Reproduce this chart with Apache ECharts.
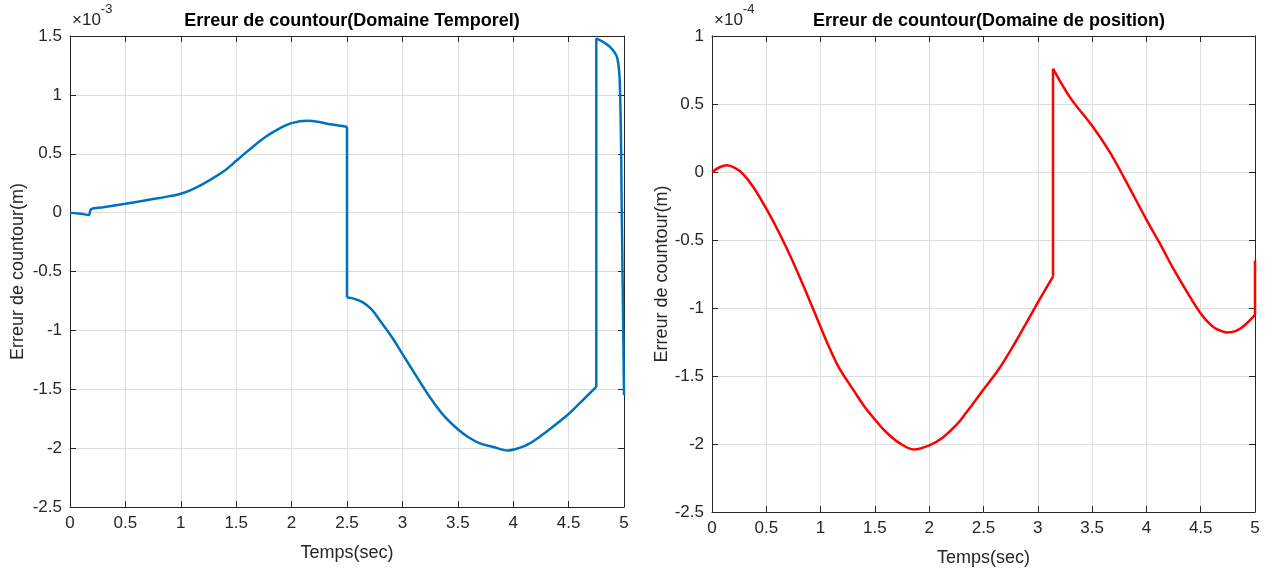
<!DOCTYPE html>
<html>
<head>
<meta charset="utf-8">
<script src="https://cdn.jsdelivr.net/npm/echarts@6/dist/echarts.min.js"></script>
<style>
  html, body { margin: 0; padding: 0; background: #fff; }
  #chart { width: 1271px; height: 572px; }
</style>
</head>
<body>
<div id="chart"></div>
<script>
// temps (s) et erreur, domaine temporel (unité 1e-3 m)
var tempsTemporel = [0, 0.1, 0.17, 0.19, 0.3, 0.5, 0.75, 0.9, 1.0, 1.1, 1.25, 1.4, 1.5, 1.6, 1.76, 1.9, 2.0, 2.14, 2.25, 2.35, 2.5,
  2.5, 2.56, 2.64, 2.72, 2.8, 2.9, 3.0, 3.12, 3.25, 3.37, 3.5, 3.6, 3.7, 3.82, 3.95, 4.05, 4.15, 4.3, 4.5, 4.62, 4.75,
  4.75, 4.87, 4.94, 4.965, 4.98, 5.0];
var erreurTemporel = [0, -0.01, -0.02, 0.03, 0.045, 0.075, 0.115, 0.14, 0.16, 0.195, 0.27, 0.36, 0.44, 0.52, 0.64, 0.72, 0.76, 0.78, 0.77, 0.75, 0.73,
  -0.72, -0.73, -0.76, -0.82, -0.92, -1.05, -1.2, -1.38, -1.57, -1.72, -1.84, -1.91, -1.96, -1.99, -2.02, -2.0, -1.96, -1.86, -1.71, -1.6, -1.48,
  1.48, 1.41, 1.31, 1.0, 0.0, -1.55];

// domaine de position (unité 1e-4 m)
var tempsPosition = [0, 0.07, 0.14, 0.21, 0.28, 0.38, 0.5, 0.62, 0.74, 0.87, 1.0, 1.08, 1.17, 1.3, 1.4, 1.5, 1.6, 1.72, 1.86,
  2.0, 2.12, 2.25, 2.34, 2.5, 2.64, 2.75, 2.88, 3.0, 3.14,
  3.14, 3.3, 3.5, 3.66, 3.8, 4.0, 4.12, 4.24, 4.38, 4.5, 4.6, 4.66, 4.74, 4.82, 4.9, 5.0, 5.0];
var erreurPosition = [0, 0.035, 0.05, 0.03, -0.01, -0.11, -0.27, -0.45, -0.65, -0.89, -1.14, -1.29, -1.44, -1.6, -1.72, -1.82, -1.91, -1.99, -2.04,
  -2.01, -1.955, -1.86, -1.77, -1.6, -1.45, -1.31, -1.13, -0.96, -0.77,
  0.76, 0.545, 0.34, 0.15, -0.05, -0.35, -0.52, -0.70, -0.89, -1.04, -1.13, -1.16, -1.18, -1.17, -1.13, -1.05, -0.65];

var xTicks = { min: 0, max: 5, interval: 0.5 };
var yTicksTemporel = { min: -2.5, max: 1.5, interval: 0.5 };
var yTicksPosition = { min: -2.5, max: 1, interval: 0.5 };

var police = 'Liberation Sans, Arial, sans-serif';
var couleurAxe = '#262626';

// coupe la courbe aux sauts verticaux : morceaux lissés + sauts droits
function courbe(xs, ys, axe, couleur) {
  var morceaux = [[]], sauts = [];
  for (var i = 0; i < xs.length; i++) {
    if (i > 0 && xs[i] === xs[i - 1]) {
      sauts.push([[xs[i - 1], ys[i - 1]], [xs[i], ys[i]]]);
      morceaux.push([]);
    }
    morceaux[morceaux.length - 1].push([xs[i], ys[i]]);
  }
  var style = { color: couleur, width: 2.5 };
  var out = [];
  morceaux.forEach(function (m) {
    if (m.length < 2) return;
    out.push({ type: 'line', xAxisIndex: axe, yAxisIndex: axe, data: m, smooth: 0.35,
      showSymbol: false, lineStyle: style, itemStyle: { color: couleur } });
  });
  sauts.forEach(function (s) {
    out.push({ type: 'line', xAxisIndex: axe, yAxisIndex: axe, data: s,
      showSymbol: false, lineStyle: style, itemStyle: { color: couleur } });
  });
  return out;
}

function axeX(grid, principal) {
  return {
    type: 'value', gridIndex: grid, min: xTicks.min, max: xTicks.max, interval: xTicks.interval,
    position: principal ? 'bottom' : 'top',
    name: principal ? 'Temps(sec)' : '', nameLocation: 'middle', nameGap: 37,
    nameTextStyle: { fontFamily: police, fontSize: 18, color: couleurAxe },
    axisLine: { show: true, onZero: false, lineStyle: { color: couleurAxe, width: 1 } },
    axisTick: { show: true, inside: true, length: 6, lineStyle: { color: couleurAxe } },
    axisLabel: { show: principal, margin: 8, fontFamily: police, fontSize: 17, color: couleurAxe },
    splitLine: { show: principal, lineStyle: { color: '#dedede', width: 1 } }
  };
}

function axeY(grid, ticks, principal, ecart) {
  return {
    type: 'value', gridIndex: grid, min: ticks.min, max: ticks.max, interval: ticks.interval,
    position: principal ? 'left' : 'right',
    name: principal ? 'Erreur de countour(m)' : '', nameLocation: 'middle', nameGap: ecart,
    nameTextStyle: { fontFamily: police, fontSize: 18, color: couleurAxe },
    axisLine: { show: true, onZero: false, lineStyle: { color: couleurAxe, width: 1 } },
    axisTick: { show: true, inside: true, length: 6, lineStyle: { color: couleurAxe } },
    axisLabel: { show: principal, margin: 8, fontFamily: police, fontSize: 17, color: couleurAxe },
    splitLine: { show: principal, lineStyle: { color: '#dedede', width: 1 } }
  };
}

var chart = echarts.init(document.getElementById('chart'), null, { renderer: 'canvas' });

chart.setOption({
  backgroundColor: '#fff',
  animation: false,
  title: [
    { text: 'Erreur de countour(Domaine Temporel)', left: 347, top: 7, textAlign: 'center',
      textStyle: { fontFamily: police, fontSize: 18, fontWeight: 'bold', color: '#000' } },
    { text: 'Erreur de countour(Domaine de position)', left: 984, top: 7, textAlign: 'center',
      textStyle: { fontFamily: police, fontSize: 18, fontWeight: 'bold', color: '#000' } }
  ],
  grid: [
    { left: 70, right: 647, top: 36, bottom: 65 },
    { left: 712, right: 16, top: 36, bottom: 59 }
  ],
  // axes 0/2 : principaux, 1/3 : boîte (haut et droite)
  xAxis: [axeX(0, true), axeX(0, false), axeX(1, true), axeX(1, false)],
  yAxis: [axeY(0, yTicksTemporel, true, 43), axeY(0, yTicksTemporel, false, 0),
          axeY(1, yTicksPosition, true, 41), axeY(1, yTicksPosition, false, 0)],
  graphic: [
    { type: 'text', left: 72, top: 3,
      style: { text: '{a|×10}{b|-3}', rich: {
        a: { fontFamily: police, fontSize: 17, fill: couleurAxe, padding: [9, 0, 0, 0] },
        b: { fontFamily: police, fontSize: 13, fill: couleurAxe, verticalAlign: 'top' } } } },
    { type: 'text', left: 714, top: 3,
      style: { text: '{a|×10}{b|-4}', rich: {
        a: { fontFamily: police, fontSize: 17, fill: couleurAxe, padding: [9, 0, 0, 0] },
        b: { fontFamily: police, fontSize: 13, fill: couleurAxe, verticalAlign: 'top' } } } }
  ],
  series: [].concat(
    courbe(tempsTemporel, erreurTemporel, 0, '#0072BD'),
    courbe(tempsPosition, erreurPosition, 2, '#FF0000')
  )
});
</script>
</body>
</html>
